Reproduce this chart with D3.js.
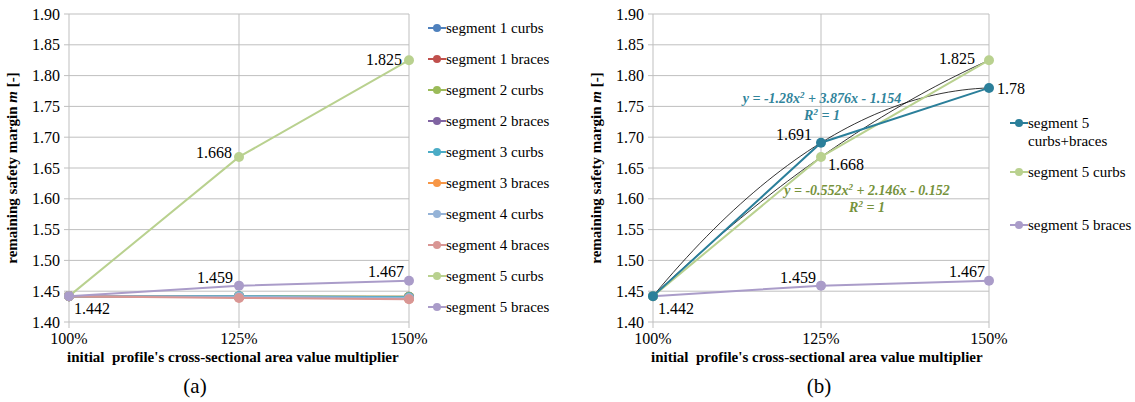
<!DOCTYPE html>
<html>
<head>
<meta charset="utf-8">
<script src="https://cdn.jsdelivr.net/npm/d3@7"></script>
<style>
  body { margin: 0; background: #fff; }
</style>
</head>
<body>
<svg id="chart" width="1135" height="402"></svg>
<script>
// categories and values
var categories = ['100%', '125%', '150%'];
var xValues = [1, 1.25, 1.5];
var yTicks = [1.40, 1.45, 1.50, 1.55, 1.60, 1.65, 1.70, 1.75, 1.80, 1.85, 1.90];

var seg1Curbs = [1.442, 1.441, 1.440];
var seg1Braces = [1.442, 1.441, 1.441];
var seg2Curbs = [1.442, 1.442, 1.441];
var seg2Braces = [1.442, 1.441, 1.439];
var seg3Curbs = [1.442, 1.442, 1.440];
var seg3Braces = [1.442, 1.440, 1.438];
var seg4Curbs = [1.442, 1.441, 1.439];
var seg4Braces = [1.442, 1.439, 1.437];
var seg5Curbs = [1.442, 1.668, 1.825];
var seg5Braces = [1.442, 1.459, 1.467];
var seg5Both = [1.442, 1.691, 1.78];

// trendline coefficients (a, b, c for a*x^2 + b*x + c)
var trendBoth = [-1.28, 3.876, -1.154];
var trendCurbs = [-0.552, 2.146, -0.152];

var seriesA = [
  {name: 'segment 1 curbs', values: seg1Curbs, color: '#4f81bd'},
  {name: 'segment 1 braces', values: seg1Braces, color: '#c0504d'},
  {name: 'segment 2 curbs', values: seg2Curbs, color: '#9bbb59'},
  {name: 'segment 2 braces', values: seg2Braces, color: '#8064a2'},
  {name: 'segment 3 curbs', values: seg3Curbs, color: '#4bacc6'},
  {name: 'segment 3 braces', values: seg3Braces, color: '#f79646'},
  {name: 'segment 4 curbs', values: seg4Curbs, color: '#95b3d7'},
  {name: 'segment 4 braces', values: seg4Braces, color: '#d99694'},
  {name: 'segment 5 curbs', values: seg5Curbs, color: '#b9d18f'},
  {name: 'segment 5 braces', values: seg5Braces, color: '#aa9cc9'}
];
var seriesB = [
  {name: ['segment 5', 'curbs+braces'], values: seg5Both, color: '#2b7f9a'},
  {name: ['segment 5 curbs'], values: seg5Curbs, color: '#b9d18f'},
  {name: ['segment 5 braces'], values: seg5Braces, color: '#aa9cc9'}
];

var svg = d3.select('#chart');

function drawChart(left, right, caption, capX) {
  var x = d3.scaleLinear().domain([1, 1.5]).range([left, right]);
  var y = d3.scaleLinear().domain([1.40, 1.90]).range([322, 14]);
  var g = svg.append('g');

  // horizontal gridlines + ticks
  g.append('g').selectAll('line').data(yTicks).enter().append('line')
    .attr('x1', left - 5).attr('x2', right)
    .attr('y1', d => y(d)).attr('y2', d => y(d))
    .attr('stroke', '#bfbfbf').attr('stroke-width', 1);
  // vertical gridlines
  g.append('g').selectAll('line').data(xValues).enter().append('line')
    .attr('x1', d => x(d)).attr('x2', d => x(d))
    .attr('y1', y(1.90)).attr('y2', y(1.40) + 6)
    .attr('stroke', '#bfbfbf').attr('stroke-width', 1);

  g.append('g').selectAll('text').data(yTicks).enter().append('text')
    .attr('x', left - 9).attr('y', d => y(d) + 5.5)
    .attr('text-anchor', 'end').attr('font-size', 16)
    .text(d => d.toFixed(2));
  g.append('g').selectAll('text').data(xValues).enter().append('text')
    .attr('x', (d, i) => x(d)).attr('y', 344)
    .attr('text-anchor', 'middle').attr('font-size', 16)
    .text((d, i) => categories[i]);

  g.append('text')
    .attr('x', left - 2).attr('y', 362)
    .attr('font-size', 15).attr('font-weight', 'bold')
    .attr('xml:space', 'preserve')
    .text("initial  profile's cross-sectional area value multiplier");

  var yt = g.append('text')
    .attr('transform', 'translate(' + (left - 52) + ',' + 168 + ') rotate(-90)')
    .attr('text-anchor', 'middle').attr('font-size', 15).attr('font-weight', 'bold');
  yt.append('tspan').text('remaining safety margin ');
  yt.append('tspan').attr('font-style', 'italic').text('m');
  yt.append('tspan').text(' [-]');

  g.append('text')
    .attr('x', capX).attr('y', 393)
    .attr('text-anchor', 'middle').attr('font-size', 21)
    .text(caption);

  return {g: g, x: x, y: y};
}

function drawSeries(c, series) {
  var line = d3.line().x((d, i) => c.x(xValues[i])).y(d => c.y(d));
  series.forEach(function(s) {
    var sg = c.g.append('g');
    sg.append('path').datum(s.values).attr('d', line)
      .attr('fill', 'none').attr('stroke', s.color).attr('stroke-width', 2);
    sg.selectAll('circle').data(s.values).enter().append('circle')
      .attr('cx', (d, i) => c.x(xValues[i])).attr('cy', d => c.y(d))
      .attr('r', 5).attr('fill', s.color);
  });
}

function drawTrend(c, coef) {
  var xs = d3.range(1, 1.5001, 0.01);
  var line = d3.line().x(d => c.x(d)).y(d => c.y(coef[0] * d * d + coef[1] * d + coef[2]));
  c.g.append('path').datum(xs).attr('d', line)
    .attr('fill', 'none').attr('stroke', '#000').attr('stroke-width', 0.8);
}

function label(c, xv, yv, dx, dy, anchor, txt) {
  c.g.append('text')
    .attr('x', c.x(xv) + dx).attr('y', c.y(yv) + dy)
    .attr('text-anchor', anchor).attr('font-size', 16)
    .text(txt);
}

function legend(items, lx, rows) {
  items.forEach(function(s, i) {
    var lg = svg.append('g').attr('transform', 'translate(' + lx + ',' + rows[i] + ')');
    lg.append('line').attr('x1', 0).attr('x2', 18).attr('y1', 0).attr('y2', 0)
      .attr('stroke', s.color).attr('stroke-width', 2);
    lg.append('circle').attr('cx', 9).attr('cy', 0).attr('r', 4).attr('fill', s.color);
    var names = Array.isArray(s.name) ? s.name : [s.name];
    names.forEach(function(n, j) {
      lg.append('text').attr('x', 18).attr('y', 5 + j * 18)
        .attr('font-size', 15).text(n);
    });
  });
}

// chart (a)
var ca = drawChart(69, 409, '(a)', 195);
drawSeries(ca, seriesA);
label(ca, 1.5, seg5Curbs[2], -7, 5, 'end', '1.825');
label(ca, 1.25, seg5Curbs[1], -7, 1, 'end', '1.668');
label(ca, 1.25, seg5Braces[1], -6, -3, 'end', '1.459');
label(ca, 1.5, seg5Braces[2], -5, -4, 'end', '1.467');
label(ca, 1, seg5Braces[0], 5, 18, 'start', '1.442');
legend(seriesA, 428, [28, 59, 90, 121, 152, 183, 214, 245, 276, 307]);

// chart (b)
var cb = drawChart(653, 989, '(b)', 819);
drawTrend(cb, trendBoth);
drawTrend(cb, trendCurbs);
drawSeries(cb, [seriesB[2], seriesB[1], seriesB[0]]);
label(cb, 1.5, seg5Curbs[2], -14, 4, 'end', '1.825');
label(cb, 1.5, seg5Both[2], 8, 6, 'start', '1.78');
label(cb, 1.25, seg5Both[1], -9, -3, 'end', '1.691');
label(cb, 1.25, seg5Curbs[1], 7, 13, 'start', '1.668');
label(cb, 1.25, seg5Braces[1], -5, -3, 'end', '1.459');
label(cb, 1.5, seg5Braces[2], -4, -4, 'end', '1.467');
label(cb, 1, seg5Braces[0], 5, 18, 'start', '1.442');

function equation(c, cx, cy, color, coef) {
  var t = c.g.append('text').attr('x', cx).attr('y', cy)
    .attr('text-anchor', 'middle').attr('font-size', 14)
    .attr('font-weight', 'bold').attr('font-style', 'italic').attr('fill', color);
  t.append('tspan').text('y = ' + coef[0] + 'x');
  t.append('tspan').attr('dy', -5).attr('font-size', 9).text('2');
  t.append('tspan').attr('dy', 5).text(' + ' + coef[1] + 'x - ' + Math.abs(coef[2]));
  var r = c.g.append('text').attr('x', cx).attr('y', cy + 17)
    .attr('text-anchor', 'middle').attr('font-size', 14)
    .attr('font-weight', 'bold').attr('font-style', 'italic').attr('fill', color);
  r.append('tspan').text('R');
  r.append('tspan').attr('dy', -5).attr('font-size', 9).text('2');
  r.append('tspan').attr('dy', 5).text(' = 1');
}
equation(cb, 822, 103, '#31849b', trendBoth);
equation(cb, 867, 195, '#76923c', trendCurbs);

legend(seriesB, 1010, [123, 172, 225]);

// serif everywhere, set on each text node
svg.selectAll('text').attr('font-family', 'Liberation Serif').style('font-family', 'Liberation Serif');
</script>
</body>
</html>
